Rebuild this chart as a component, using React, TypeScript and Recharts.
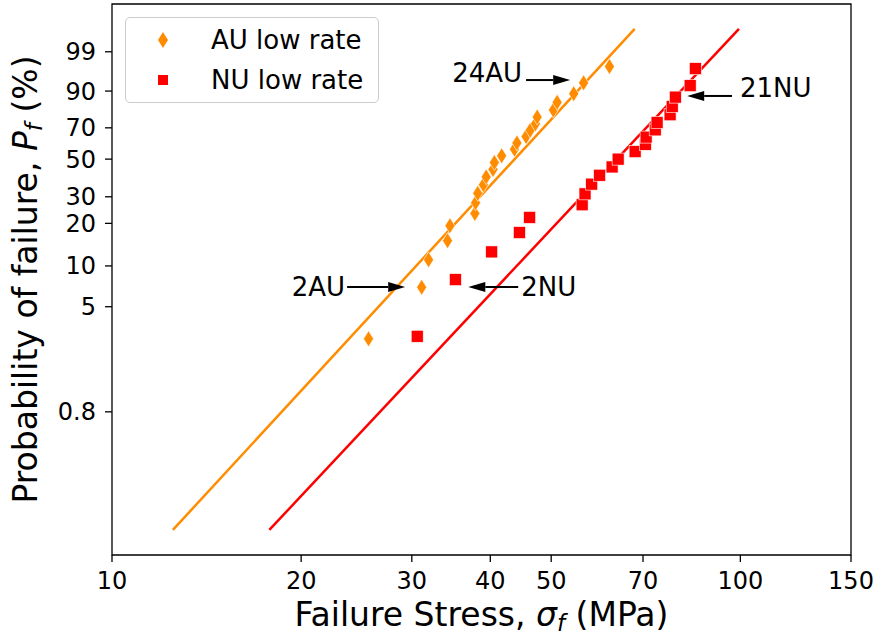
import React from 'react';
import {
  ScatterChart,
  Scatter,
  XAxis,
  YAxis,
  ReferenceLine,
  ReferenceArea,
  Legend,
  Label,
} from 'recharts';

// Weibull plot: log stress vs ln(-ln(1 - Pf))
const FONT = '"DejaVu Sans", sans-serif';
const ORANGE = '#ff8c00';
const RED = '#ff0000';

const SERIES_NAMES = ['AU low rate', 'NU low rate'];

const AU_STRESS = [
  25.6, 31.1, 31.9, 34.2, 34.5, 37.8, 37.9, 38.2, 39.0, 39.4, 40.4, 40.6,
  41.7, 43.7, 44.1, 45.6, 46.3, 47.2, 47.5, 50.4, 51.1, 54.3, 56.3, 61.9,
];
const AU_PF = [
  2.87, 6.97, 11.07, 15.16, 19.26, 23.36, 27.46, 31.56, 35.66, 39.75, 43.85,
  47.95, 52.05, 56.15, 60.25, 64.34, 68.44, 72.54, 76.64, 80.74, 84.84, 88.93,
  93.03, 97.13,
];

const NU_STRESS = [
  30.6, 35.2, 40.2, 44.5, 46.2, 56.0, 56.6, 58.0, 59.7, 62.5, 63.9, 68.0,
  70.6, 70.8, 73.2, 73.7, 77.3, 77.9, 78.8, 83.2, 84.8,
];
const NU_PF = [
  3.0, 7.94, 12.62, 17.29, 21.96, 26.64, 31.31, 35.98, 40.65, 45.33, 50.0,
  54.67, 59.35, 64.02, 68.69, 73.36, 78.04, 82.71, 87.38, 92.06, 96.73,
];

// fitted lines, drawn from Pf = 0.1 % to 99.9 %
const FIT_PF = [0.1, 99.9];
const AU_FIT_STRESS = [12.5, 67.9];
const NU_FIT_STRESS = [17.8, 99.5];

const X_TICKS = [10, 20, 30, 40, 50, 70, 100, 150];
const Y_TICK_PF = [0.8, 5, 10, 20, 30, 50, 70, 90, 99];
const X_DOMAIN = [10, 150];
const Y_DOMAIN = [-7.35, 2.37];

// annotations: label, arrow tail (stress, Pf), arrow tip (stress, Pf)
const ANNOT_LABELS = ['24AU', '2AU', '2NU', '21NU'];
const ANNOT_FROM = [[45.6, 93.9], [23.67, 7.0], [44.3, 7.0], [97.0, 87.9]];
const ANNOT_TO = [[53.6, 93.9], [29.28, 7.0], [36.9, 7.0], [82.3, 87.9]];
const ANNOT_TEXT_DY = [-7, 0, 0, -8];
const ANNOT_TEXT_GAP = [4, 2, 3, 8];

const weib = (pct: number) => Math.log(-Math.log(1 - pct / 100));

const auPoints = AU_STRESS.map((s, i) => ({ x: s, y: weib(AU_PF[i]) }));
const nuPoints = NU_STRESS.map((s, i) => ({ x: s, y: weib(NU_PF[i]) }));
const yTicks = Y_TICK_PF.map(weib);

const yTickLabel = (v: number) => {
  const i = yTicks.findIndex((t) => Math.abs(t - v) < 1e-6);
  return i >= 0 ? String(Y_TICK_PF[i]) : '';
};

const Diamond = (props: any) => {
  const { cx, cy } = props;
  return (
    <polygon
      points={`${cx},${cy - 8} ${cx + 5},${cy} ${cx},${cy + 8} ${cx - 5},${cy}`}
      fill={ORANGE}
      stroke="#fff"
      strokeWidth={0.6}
    />
  );
};

const Square = (props: any) => {
  const { cx, cy } = props;
  return (
    <rect
      x={cx - 6}
      y={cy - 6}
      width={12}
      height={12}
      fill={RED}
      stroke="#fff"
      strokeWidth={0.6}
    />
  );
};

const arrowShape = (label: string, dy: number, gap: number) => (p: any) => {
  const { x1, y1, x2, y2 } = p;
  const dir = Math.sign(x2 - x1);
  const headLen = 17;
  const headHalf = 5;
  const baseX = x2 - dir * headLen;
  return (
    <g>
      <line x1={x1} y1={y1} x2={baseX} y2={y2} stroke="#000" strokeWidth={2} />
      <polygon
        points={`${x2},${y2} ${baseX},${y2 - headHalf} ${baseX},${y2 + headHalf}`}
        fill="#000"
      />
      <text
        x={x1 - dir * gap}
        y={y1 + dy}
        textAnchor={dir > 0 ? 'end' : 'start'}
        dominantBaseline="central"
        fontSize={26}
        fontFamily={FONT}
        fill="#000"
      >
        {label}
      </text>
    </g>
  );
};

// plot box: x 112..851, y 4..555
const XLabel = () => (
  <text x={481.5} y={626} textAnchor="middle" fontSize={33} fontFamily={FONT} fill="#000">
    Failure Stress,{' '}
    <tspan fontStyle="italic">σ</tspan>
    <tspan fontStyle="italic" fontSize={23} dy={5}>f</tspan>
    <tspan dy={-5}> (MPa)</tspan>
  </text>
);

const YLabel = () => {
  const x = 37;
  const y = 279.5;
  return (
    <text
      x={x}
      y={y}
      transform={`rotate(-90 ${x} ${y})`}
      textAnchor="middle"
      fontSize={33}
      fontFamily={FONT}
      fill="#000"
    >
      Probability of failure,{' '}
      <tspan fontStyle="italic">P</tspan>
      <tspan fontStyle="italic" fontSize={23} dy={5}>f</tspan>
      <tspan dy={-5}> (%)</tspan>
    </text>
  );
};

const LegendBox = () => (
  <div
    style={{
      position: 'relative',
      width: 254,
      height: 86,
      boxSizing: 'border-box',
      border: '1px solid #cccccc',
      borderRadius: 5,
      background: 'rgba(255,255,255,0.8)',
      fontFamily: FONT,
      fontSize: 26,
      color: '#000',
    }}
  >
    {SERIES_NAMES.map((name, i) => (
      <div
        key={name}
        style={{ position: 'absolute', left: 0, top: 22 + i * 40 - 15, height: 30, width: 250 }}
      >
        <svg width={60} height={30} style={{ position: 'absolute', left: 0, top: 0 }}>
          {i === 0 ? (
            <polygon points="37,7 42,15 37,23 32,15" fill={ORANGE} />
          ) : (
            <rect x={32} y={10} width={10} height={10} fill={RED} />
          )}
        </svg>
        <span style={{ position: 'absolute', left: 85, top: 0, lineHeight: '30px', whiteSpace: 'nowrap' }}>
          {name}
        </span>
      </div>
    ))}
  </div>
);

export default function App() {
  return (
    <div style={{ position: 'absolute', left: 0, top: 0, background: '#fff' }}>
      <ScatterChart
        width={877}
        height={635}
        margin={{ top: 4, right: 26, bottom: 0, left: 0 }}
      >
        <XAxis
          type="number"
          dataKey="x"
          scale="log"
          domain={X_DOMAIN}
          ticks={X_TICKS}
          interval={0}
          allowDataOverflow
          height={80}
          axisLine={false}
          tickLine={{ stroke: '#000', strokeWidth: 1.3 }}
          tickSize={7}
          tickMargin={10}
          tick={{ fill: '#000', fontSize: 24, fontFamily: FONT }}
        >
          <Label content={XLabel} />
        </XAxis>
        <YAxis
          type="number"
          dataKey="y"
          domain={Y_DOMAIN}
          ticks={yTicks}
          interval={0}
          tickFormatter={yTickLabel}
          allowDataOverflow
          width={112}
          axisLine={false}
          tickLine={{ stroke: '#000', strokeWidth: 1.3 }}
          tickSize={7}
          tickMargin={9}
          tick={{ fill: '#000', fontSize: 24, fontFamily: FONT }}
        >
          <Label content={YLabel} />
        </YAxis>
        <Scatter
          name={SERIES_NAMES[0]}
          data={auPoints}
          fill={ORANGE}
          shape={Diamond}
          isAnimationActive={false}
        />
        <Scatter
          name={SERIES_NAMES[1]}
          data={nuPoints}
          fill={RED}
          shape={Square}
          isAnimationActive={false}
        />
        <ReferenceLine
          segment={[
            { x: AU_FIT_STRESS[0], y: weib(FIT_PF[0]) },
            { x: AU_FIT_STRESS[1], y: weib(FIT_PF[1]) },
          ]}
          stroke={ORANGE}
          strokeWidth={2.5}
          ifOverflow="visible"
        />
        <ReferenceLine
          segment={[
            { x: NU_FIT_STRESS[0], y: weib(FIT_PF[0]) },
            { x: NU_FIT_STRESS[1], y: weib(FIT_PF[1]) },
          ]}
          stroke={RED}
          strokeWidth={2.5}
          ifOverflow="visible"
        />
        {ANNOT_LABELS.map((label, i) => (
          <ReferenceLine
            key={label}
            segment={[
              { x: ANNOT_FROM[i][0], y: weib(ANNOT_FROM[i][1]) },
              { x: ANNOT_TO[i][0], y: weib(ANNOT_TO[i][1]) },
            ]}
            ifOverflow="visible"
            shape={arrowShape(label, ANNOT_TEXT_DY[i], ANNOT_TEXT_GAP[i])}
          />
        ))}
        <ReferenceArea
          x1={X_DOMAIN[0]}
          x2={X_DOMAIN[1]}
          y1={Y_DOMAIN[0]}
          y2={Y_DOMAIN[1]}
          fill="none"
          stroke="#000"
          strokeWidth={1.3}
          ifOverflow="visible"
        />
        <Legend
          layout="horizontal"
          align="center"
          verticalAlign="middle"
          content={LegendBox}
          wrapperStyle={{ left: 125, top: 17, width: 254, height: 86 }}
        />
      </ScatterChart>
    </div>
  );
}
